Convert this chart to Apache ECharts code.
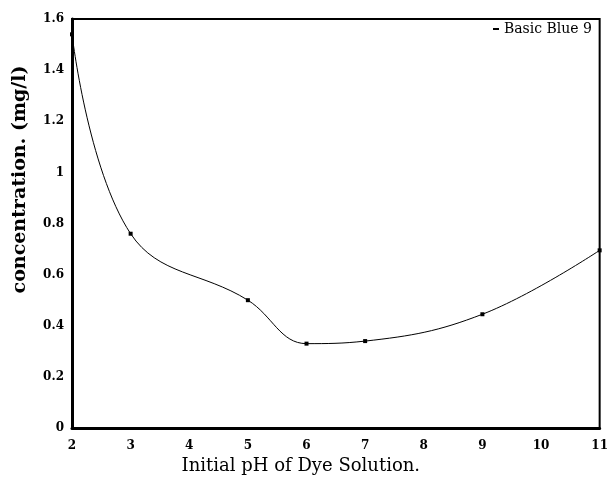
<!DOCTYPE html>
<html>
<head>
<meta charset="utf-8">
<script src="https://cdn.jsdelivr.net/npm/echarts@6/dist/echarts.min.js"></script>
<style>html,body{margin:0;padding:0;background:#fff}#c{width:611px;height:489px}</style>
</head>
<body>
<div id="c"></div>
<script>
const seriesName = 'Basic Blue 9';
const phValues = [2, 3, 5, 6, 7, 9, 11];
const concentration = [1.54, 0.76, 0.50, 0.33, 0.34, 0.445, 0.695];
const xTicks = [2, 3, 4, 5, 6, 7, 8, 9, 10, 11];
const yTicks = [0, 0.2, 0.4, 0.6, 0.8, 1, 1.2, 1.4, 1.6];
const xAxisTitle = 'Initial pH of Dye Solution.';
const yAxisTitle = 'concentration. (mg/l)';

const chart = echarts.init(document.getElementById('c'), null, {renderer: 'canvas'});
const serifBold = {fontFamily: 'DejaVu Serif', fontWeight: 'bold', color: '#000'};
chart.setOption({
  animation: false,
  backgroundColor: '#fff',
  grid: {left: 72, right: 5, top: 19, bottom: 61, show: true, borderColor: '#000', borderWidth: 2, backgroundColor: 'transparent'},
  legend: {
    data: [seriesName], right: 14, top: 17, itemWidth: 6, itemHeight: 2, itemGap: 4,
    icon: 'rect',
    textStyle: {fontFamily: 'DejaVu Serif', fontSize: 14, color: '#000'}
  },
  xAxis: {
    type: 'value', min: xTicks[0], max: xTicks[xTicks.length - 1], interval: 1,
    axisLine: {show: true, lineStyle: {color: '#000', width: 3}},
    axisTick: {show: false},
    splitLine: {show: false},
    axisLabel: Object.assign({fontSize: 12, margin: 12}, serifBold),
    name: xAxisTitle, nameLocation: 'middle', nameGap: 22,
    nameTextStyle: {fontFamily: 'DejaVu Serif', fontSize: 18, color: '#000', padding: [0, 70, 0, 0]}
  },
  yAxis: {
    type: 'value', min: yTicks[0], max: yTicks[yTicks.length - 1], interval: 0.2,
    axisLine: {show: true, lineStyle: {color: '#000', width: 3}},
    axisTick: {show: false},
    splitLine: {show: false},
    axisLabel: Object.assign({fontSize: 12, margin: 8, formatter: v => String(Math.round(v * 10) / 10)}, serifBold),
    name: yAxisTitle, nameLocation: 'middle', nameGap: 42,
    nameTextStyle: {fontFamily: 'DejaVu Serif', fontWeight: 'bold', fontSize: 19, color: '#000', padding: [0, 0, 0, 88]}
  },
  series: [{
    name: seriesName,
    type: 'line',
    data: phValues.map((x, i) => [x, concentration[i]]),
    smooth: 0.4,
    symbol: 'rect', symbolSize: 4, showSymbol: true,
    lineStyle: {color: '#000', width: 1},
    itemStyle: {color: '#000'}
  }]
});
</script>
</body>
</html>
